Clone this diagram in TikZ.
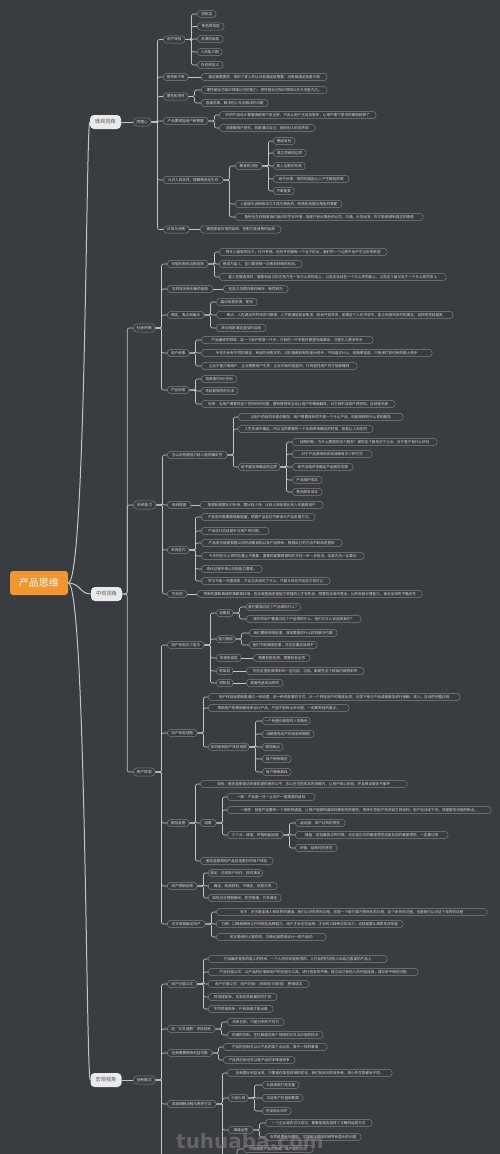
\documentclass[tikz,border=0pt]{standalone}
\usepackage{fontspec}
\newfontfamily\cjk{Noto Sans CJK SC}
\newfontfamily\wmfont{DejaVu Sans}
\definecolor{bgc}{RGB}{57,60,65}
\definecolor{edgec}{RGB}{130,132,136}
\definecolor{txtc}{RGB}{215,215,215}
\definecolor{linkc}{RGB}{196,197,199}
\definecolor{viewc}{RGB}{234,234,234}
\definecolor{viewtxt}{RGB}{92,92,92}
\definecolor{rootc}{RGB}{242,150,48}

\begin{document}
\begin{tikzpicture}[
        x=1pt, y=-1pt,
        leaf/.style={draw=edgec, fill=bgc, text=txtc, rounded corners=3.6pt, anchor=west,
            minimum height=7.4pt, inner xsep=2pt, inner ysep=0pt, line width=0.45pt,
            font=\cjk\fontsize{3.6}{4.2}\selectfont},
        mid/.style={leaf, minimum height=8.2pt, rounded corners=4pt, font=\cjk\fontsize{3.8}{4.5}\selectfont},
        view/.style={fill=viewc, text=viewtxt, rounded corners=4pt, minimum width=31pt,
            minimum height=14pt, inner sep=1pt, font=\cjk\fontsize{5.2}{6}\selectfont},
        rootbox/.style={fill=rootc, text=white, rounded corners=3pt, minimum width=58pt,
            minimum height=24pt, font=\cjk\fontsize{10}{12}\selectfont},
        link/.style={draw=linkc, line width=0.6pt, rounded corners=2pt},
        trunk/.style={draw=linkc, line width=1pt},
        wmark/.style={text=gray, opacity=0.6, font=\wmfont\bfseries\fontsize{20}{20}\selectfont}
    ]
    \fill[bgc] (0,0) rectangle (500,1154);
    \useasboundingbox (0,0) rectangle (500,1154);

    % root and views
    \node[rootbox] (root) at (39,583) {产品思维};
    \node[view] (wei) at (105.5,122) {微观视角};
    \node[view] (zhong) at (106.5,594) {中观视角};
    \node[view] (hong) at (106,1080) {宏观视角};

    \node[mid, minimum width=18] (tlx) at (133,122) {同理心};
    \node[mid, minimum width=22] (shpd) at (133,328) {社会判断};
    \node[mid, minimum width=23] (xtnl) at (133,505) {系统能力};
    \node[mid, minimum width=22] (yhty) at (133,772) {用户体验};
    \node[mid, minimum width=22] (cxms) at (133,1080) {创新模式};

    % micro: empathy
    \node[leaf, minimum width=22] (ty1) at (163,39.5) {用户体验};
    \node[leaf, minimum width=25] (ty2) at (163,77) {愉悦和不爽};
    \node[leaf, minimum width=25] (ty3) at (163,96.5) {理性和感性};
    \node[leaf, minimum width=45] (ty4) at (163,121) {产品要赋能用户被需要};
    \node[leaf, minimum width=60] (ty5) at (163,180) {认识人的本性，理解角色化生存};
    \node[leaf, minimum width=26] (ty6) at (163,229.5) {日常与消费};

    \node[leaf, minimum width=19] (ty1a) at (197,14) {感知层};
    \node[leaf, minimum width=27] (ty1b) at (197,26.5) {角色框架层};
    \node[leaf, minimum width=26] (ty1c) at (197,39) {资源供给层};
    \node[leaf, minimum width=25] (ty1d) at (197,52) {人的能力圈};
    \node[leaf, minimum width=26] (ty1e) at (197,65) {存在感定义};
    \node[leaf, minimum width=126] (ty2a) at (201,77) {满足被需要感，得到了爱人的认可就满足被需要，没有被满足就是不爽};
    \node[leaf, minimum width=126] (ty3a) at (201,90) {理性是自己知识领域以内的能力，感性是自己知识领域以外又无能为力。};
    \node[leaf, minimum width=67] (ty3b) at (201,103) {直面恐惧，解决别人无法解决的问题};
    \node[leaf, minimum width=157] (ty4a) at (219,115) {好的产品设计要懂得给用户安全感，不会让用户主动去思考，让用户做下意识的事情就够了};
    \node[leaf, minimum width=96] (ty4b) at (219,128) {去理解用户研究，就是通过自己，接纳别人的世界观};
    \node[leaf, minimum width=27] (ty5a) at (235,166) {教育的过程};
    \node[leaf, minimum width=107] (ty5b) at (235,204) {人是因为训练和压力才成为角色的，而角色就是应角色的需要};
    \node[leaf, minimum width=188] (ty5c) at (235,217) {角色化生存就是我们面对的生存环境，但是只有从角色的认同，沟通，示范出发，你才能够得到真正的情感};
    \node[leaf, minimum width=22] (ty5a1) at (273,141) {确定目标};
    \node[leaf, minimum width=33] (ty5a2) at (273,153) {建立思维的边界};
    \node[leaf, minimum width=32] (ty5a3) at (273,166) {放入边框的东西};
    \node[leaf, minimum width=76] (ty5a4) at (273,179) {给予反馈，相同的奖励让人产生路径依赖};
    \node[leaf, minimum width=21] (ty5a5) at (273,191) {不断重复};
    \node[leaf, minimum width=81] (ty6a) at (200,229.5) {做选择是日常的延伸，控制力是消费的延伸};

    % meso: social judgement
    \node[leaf, minimum width=41] (sh1) at (167,264) {价值判断的边框选择};
    \node[leaf, minimum width=46] (sh2) at (167,289) {怎样找到有判断的趋势};
    \node[leaf, minimum width=37] (sh3) at (167,315) {确定，爽点和痛点};
    \node[leaf, minimum width=22] (sh4) at (167,353) {用户画像};
    \node[leaf, minimum width=22] (sh5) at (167,390) {产品场景};

    \node[leaf, minimum width=168] (sh1a) at (219,252) {很多人面临的压力，行行有错，他在乎的是每一个当下的点，我们同一个边界不会产生过多的欲望};
    \node[leaf, minimum width=83] (sh1b) at (219,264) {想成为富人，至少要获得一次独到判断的机会。};
    \node[leaf, minimum width=227] (sh1c) at (219,277) {富人在做选择时，要看到自己的注意力在一条什么样的线上，以及这条线在一个什么样的面上，以及这个面又处于一个什么样的体上};
    \node[leaf, minimum width=65] (sh2a) at (223,289) {在能力范围内做判断好，断然而为};
    \node[leaf, minimum width=41] (sh3a) at (216,302) {痛点就是恐惧，害怕};
    \node[leaf, minimum width=237] (sh3b) at (216,315) {爽点：人在满足时的状态叫做爽，人不被满足就会焦虑，就会开始寻求，如果这个人在寻求中，能立刻得到及时的满足，这种感觉就是爽};
    \node[leaf, minimum width=50] (sh3c) at (216,328) {痒点就是满足虚拟的自我};
    \node[leaf, minimum width=172] (sh4a) at (201,340) {产品最终的领域，是一个用户愿意一只手，只有在一只手能在那里完成满足，才能引入更多的手};
    \node[leaf, minimum width=231] (sh4b) at (201,353) {手机中会有不同的满足，有目的地购买的，对价值做判断的是大规手，不知道买什么，就随便逛逛，只用来打发时间的是小规手};
    \node[leaf, minimum width=156] (sh4c) at (201,366) {企业不能只做用户，企业需要用户引导，企业的目的是盈利，只有留住用户你才能够赚钱};
    \node[leaf, minimum width=36] (sh5a) at (201,379) {场景是时间+空间};
    \node[leaf, minimum width=37] (sh5b) at (201,391) {场就是情感的沉浸};
    \node[leaf, minimum width=194] (sh5c) at (201,404) {场景：当用户需要在这个空间的时间里，要有情感和互动让用户的情绪触发，对它就形成用户的感知，这就是场景};

    % meso: system ability
    \node[leaf, minimum width=60] (xt1) at (167,455) {怎么用构建能力给人提供确定性};
    \node[leaf, minimum width=24] (xt2) at (167,505) {系统搭建};
    \node[leaf, minimum width=22] (xt3) at (167,550) {系统迭代};
    \node[leaf, minimum width=20] (xt4) at (167,594) {生局观};

    \node[leaf, minimum width=165] (xt1a) at (238,417) {以用户的目的去提供服务，用户需要得到的不是一个什么产品，而是想得到什么样的服务};
    \node[leaf, minimum width=135] (xt1b) at (238,429) {人生充满不确定，所以当你需要的一个东西带来确定的时候，就是让人向往的};
    \node[leaf, minimum width=42] (xt1c) at (238,467) {给予服务来确定的边界};
    \node[leaf, minimum width=145] (xt1c1) at (292,442) {战略判断，为什么要提供这个服务？提供这个服务对于企业、对于客户有什么好处};
    \node[leaf, minimum width=80] (xt1c2) at (292,454) {对于产品落地和实现战略有多少种方式};
    \node[leaf, minimum width=61] (xt1c3) at (292,467) {给予战略评估确定产品服务范围};
    \node[leaf, minimum width=30] (xt1c4) at (292,480) {产品维护成本};
    \node[leaf, minimum width=30] (xt1c5) at (292,492) {售后服务成本};
    \node[leaf, minimum width=123] (xt2a) at (200,505) {搭建就是要比对手快，要比别人快，比别人快就是比别人先赢得用户};
    \node[leaf, minimum width=114] (xt3a) at (201,517) {产品迭代需要跟随着增量，根据产品定位不断迭代产品发展方向};
    \node[leaf, minimum width=68] (xt3b) at (201,531) {产品迭代应该是针对用户的问题。};
    \node[leaf, minimum width=141] (xt3c) at (201,543) {产品迭代就是根据公司的战略目标以及产品使命，根据自己的方向不断改进更新};
    \node[leaf, minimum width=163] (xt3d) at (201,556) {今天你在什么样的位置上不重要，重要的是要根据你的方向一步一步前进，但是方向一定要对};
    \node[leaf, minimum width=61] (xt3e) at (201,569) {迭代过程中核心功能能力要素。};
    \node[leaf, minimum width=129] (xt3f) at (201,581) {罗马不是一天建成的，不论过去经历了什么，只要从现在开始努力就可以};
    \node[leaf, minimum width=225] (xt4a) at (197,594) {将来的事和做成的事都是红海，在红海里面还是能力很强的人才有机会，想要在红海中胜出，比的就是计算能力，面对全局的不确定性};

    % meso: user experience
    \node[leaf, minimum width=37] (yt1) at (167,645) {用户体验五个层次};
    \node[leaf, minimum width=30] (yt2) at (167,733) {用户体验地图};
    \node[leaf, minimum width=22] (yt3) at (167,823) {服务蓝图};
    \node[leaf, minimum width=30] (yt4) at (167,886) {用户预期反馈};
    \node[leaf, minimum width=38] (yt5) at (167,924) {名字就是触达用户};

    \node[leaf, minimum width=17] (yt1a) at (216,613) {战略层};
    \node[leaf, minimum width=19] (yt1b) at (216,639) {能力圈层};
    \node[leaf, minimum width=25] (yt1c) at (216,658) {资源供给层};
    \node[leaf, minimum width=17] (yt1d) at (216,671) {框架层};
    \node[leaf, minimum width=17] (yt1e) at (216,683) {感知层};
    \node[leaf, minimum width=52] (yt1a1) at (246,607) {我们要通过这个产品得到什么？};
    \node[leaf, minimum width=115] (yt1a2) at (246,619) {我们的用户要通过这个产品得到什么，他们为什么会选择我们？};
    \node[leaf, minimum width=88] (yt1b1) at (249,633) {我们要做到哪些事，具体要提供什么样的解决方案};
    \node[leaf, minimum width=68] (yt1b2) at (249,645) {我们不能做哪些事，对这些事应该说不};
    \node[leaf, minimum width=57] (yt1c1) at (253,658) {需要有角色感，需要有安全感};
    \node[leaf, minimum width=118] (yt1d1) at (246,671) {你在这里能够得到的一些内容，功能，都是在这个框架内被想到的};
    \node[leaf, minimum width=37] (yt1e1) at (246,683) {表面所呈现出来的};
    \node[leaf, minimum width=252] (yt2a) at (208,697) {用户体验地图就是通过一张地图，用一种讲故事的方式，从一个特定用户的角度出发，记录下他与产品或者服务进行接触、进入、互动的完整过程};
    \node[leaf, minimum width=141] (yt2b) at (208,708) {按照用户的使用路径来设计产品，产品不能有太多问题，一定要有他的重点。};
    \node[leaf, minimum width=41] (yt2c) at (208,747) {如何绘制用户体验地图};
    \node[leaf, minimum width=48] (yt2c1) at (262,721) {一个有量化依据的人物角色};
    \node[leaf, minimum width=52] (yt2c2) at (262,734) {战略角色用户的目标和预期};
    \node[leaf, minimum width=21] (yt2c3) at (262,747) {服务触点};
    \node[leaf, minimum width=29] (yt2c4) at (262,759) {用户使用路径};
    \node[leaf, minimum width=29] (yt2c5) at (262,772) {用户情绪曲线};
    \node[leaf, minimum width=207] (yt3a) at (200,784) {目标：服务蓝图是达到服务提供者的公平，怎么在可控成本的范畴内，让用户核心体验，并且保证服务不崩坏};
    \node[leaf, minimum width=16] (yt3b) at (200,823) {结果};
    \node[leaf, minimum width=73] (yt3c) at (200,861) {服务蓝图帮助产品创造更好的用户体验};
    \node[leaf, minimum width=88] (yt3b1) at (227,797) {一般：产品是一对一让用户一般满意的目标};
    \node[leaf, minimum width=264] (yt3b2) at (227,810) {一致性：就是产品要有一个清晰的通道，让用户能够知道如何使用你的服务，用来引导用户完成自己的目标，用户无法走下去，就是服务流程的断点。};
    \node[leaf, minimum width=56] (yt3b3) at (227,835) {三个点：峰值，终值和起始值};
    \node[leaf, minimum width=50] (yt3b3a) at (295,823) {起始值：用户达到的感觉};
    \node[leaf, minimum width=153] (yt3b3b) at (295,835) {峰值：体验最高点的时候，无论是正向的最佳感觉还是负向的最差感觉，一定要记得};
    \node[leaf, minimum width=42] (yt3b3c) at (295,848) {终值：结束时的感觉};
    \node[leaf, minimum width=51] (yt4a) at (208,873) {满足：达成用户动作，按时满足};
    \node[leaf, minimum width=69] (yt4b) at (208,886) {确定，就是获取，不确定，就是负责};
    \node[leaf, minimum width=73] (yt4c) at (208,898) {如何应对预期期间，抓住情绪，引发满足};
    \node[leaf, minimum width=271] (yt5a) at (216,912) {名字：名字是连接人和世界的通道，我们认识世界的过程，就是一个给万事万物命名的过程，这个命名的过程，也是我们认识这个世界的过程};
    \node[leaf, minimum width=187] (yt5b) at (216,924) {口碑：口碑是期待之外的那些品牌能力，用户才会记住品牌，才会有口碑传达的动力，也就是要从满意变成惊喜};
    \node[leaf, minimum width=110] (yt5c) at (216,937) {名字是给别人提供的，口碑也是帮助设计一款产品的};

    % macro: innovation
    \node[leaf, minimum width=30] (cx1) at (167,984) {用户价值公式};
    \node[leaf, minimum width=48] (cx2) at (167,1029) {用“交叉地图”寻找创新};
    \node[leaf, minimum width=45] (cx3) at (167,1053) {创新需要保持利益均衡};
    \node[leaf, minimum width=49] (cx4) at (167,1104) {深度理解流程与跨界打法};

    \node[leaf, minimum width=179] (cx1a) at (208,959) {产品最终竞争的是人的时间，一个人的时间是有限的，人们会把时间投入到自己喜爱的产品上};
    \node[leaf, minimum width=210] (cx1b) at (208,972) {产品价值公式：以产品的价值和用户的价值为工具，进行信息的平衡，建立自己和他人的利益连接，建立新平衡的过程};
    \node[leaf, minimum width=101] (cx1c) at (208,984) {用户价值公式：用户价值=（新体验-旧体验）-替换成本};
    \node[leaf, minimum width=69] (cx1d) at (208,997) {同领域竞争，先发优势是最好的扩张};
    \node[leaf, minimum width=65] (cx1e) at (208,1009) {不同领域竞争，只有高维才是出路};
    \node[leaf, minimum width=57] (cx2a) at (227,1022) {未来已来，只是分布的不均匀};
    \node[leaf, minimum width=96] (cx2b) at (227,1035) {所谓的创新，往往都是在两个领域的交叉点应用的技术};
    \node[leaf, minimum width=104] (cx3a) at (223,1047) {产品的创新可以从产品的某个点出发，做不一样的事情};
    \node[leaf, minimum width=72] (cx3b) at (223,1060) {产品的创新也可以是产品的多维度竞争};
    \node[leaf, minimum width=165] (cx4a) at (227,1073) {创新要从利益出发，只要是在某些领域的优化，我们找到对的竞争者，再小的生意都会不同。};
    \node[leaf, minimum width=20] (cx4b) at (228,1098) {三级火箭};
    \node[leaf, minimum width=25] (cx4c) at (228,1130) {渠道运营};
    \node[leaf, minimum width=37] (cx4b1) at (262,1085) {头部高频打造流量};
    \node[leaf, minimum width=41] (cx4b2) at (262,1098) {沉淀用户价值和数据};
    \node[leaf, minimum width=29] (cx4b3) at (262,1111) {完成商业闭环};
    \node[leaf, minimum width=107] (cx4c1) at (265,1123) {一个企业是否可以成功，要看他是否选择了正确的运营方法};
    \node[leaf, minimum width=96] (cx4c2) at (265,1137) {世界是要有规模的，才能解决领域的跨界和盈利的问题};
    \node[leaf, minimum width=70] (bt) at (243,1149) {中观就是产品的思维，做产品的方法};

    \coordinate (cxend) at (161,1160);
    \coordinate (cx4end) at (222,1160);
    \coordinate (btend) at (237,1160);

    % trunk curves
    \draw[trunk] (root.east) .. controls (86,583) and (86,122) .. (wei.west);
    \draw[trunk] (root.east) .. controls (80,583) and (80,594) .. (zhong.west);
    \draw[trunk] (root.east) .. controls (86,583) and (86,1080) .. (hong.west);

    \draw[link] (wei.east) -- (tlx.west);
    \draw[link] (hong.east) -- (cxms.west);
    \foreach \c in {shpd,xtnl,yhty}
        \draw[link] (zhong.east) -- ([xshift=5pt]zhong.east) |- (\c.west);

    % tree links
    \foreach \p/\kids in {tlx/{ty1,ty2,ty3,ty4,ty5,ty6},
            ty1/{ty1a,ty1b,ty1c,ty1d,ty1e}, ty3/{ty3a,ty3b}, ty4/{ty4a,ty4b},
            ty5/{ty5a,ty5b,ty5c}, ty5a/{ty5a1,ty5a2,ty5a3,ty5a4,ty5a5},
            shpd/{sh1,sh2,sh3,sh4,sh5}, sh1/{sh1a,sh1b,sh1c}, sh3/{sh3a,sh3b,sh3c},
            sh4/{sh4a,sh4b,sh4c}, sh5/{sh5a,sh5b,sh5c},
            xtnl/{xt1,xt2,xt3,xt4}, xt1/{xt1a,xt1b,xt1c}, xt1c/{xt1c1,xt1c2,xt1c3,xt1c4,xt1c5},
            xt3/{xt3a,xt3b,xt3c,xt3d,xt3e,xt3f},
            yhty/{yt1,yt2,yt3,yt4,yt5}, yt1/{yt1a,yt1b,yt1c,yt1d,yt1e}, yt1a/{yt1a1,yt1a2},
            yt1b/{yt1b1,yt1b2}, yt2/{yt2a,yt2b,yt2c}, yt2c/{yt2c1,yt2c2,yt2c3,yt2c4,yt2c5},
            yt3/{yt3a,yt3b,yt3c}, yt3b/{yt3b1,yt3b2,yt3b3}, yt3b3/{yt3b3a,yt3b3b,yt3b3c},
            yt4/{yt4a,yt4b,yt4c}, yt5/{yt5a,yt5b,yt5c},
            cxms/{cx1,cx2,cx3,cx4}, cx1/{cx1a,cx1b,cx1c,cx1d,cx1e}, cx2/{cx2a,cx2b},
            cx3/{cx3a,cx3b}, cx4/{cx4a,cx4b,cx4c}, cx4b/{cx4b1,cx4b2,cx4b3}, cx4c/{cx4c1,cx4c2}}
        \foreach \c in \kids
            \draw[link] (\p.east) -- ([xshift=6pt]\p.east) |- (\c.west);

    \foreach \p/\c in {ty2/ty2a, ty6/ty6a, sh2/sh2a, xt2/xt2a, xt4/xt4a, yt1c/yt1c1, yt1d/yt1d1, yt1e/yt1e1}
        \draw[link] (\p.east) -- (\c.west);

    % branches running on below the edge
    \draw[link] ([xshift=6pt]cxms.east) -- ([xshift=6pt]cxms.east |- cxend);
    \draw[link] ([xshift=6pt]cx4.east) -- ([xshift=6pt]cx4.east |- cx4end);
    \draw[link] (bt.west) -| (btend);

    \node[wmark] (wm) at (250,1141) {tuhuaba.com};
\end{tikzpicture}
\end{document}
